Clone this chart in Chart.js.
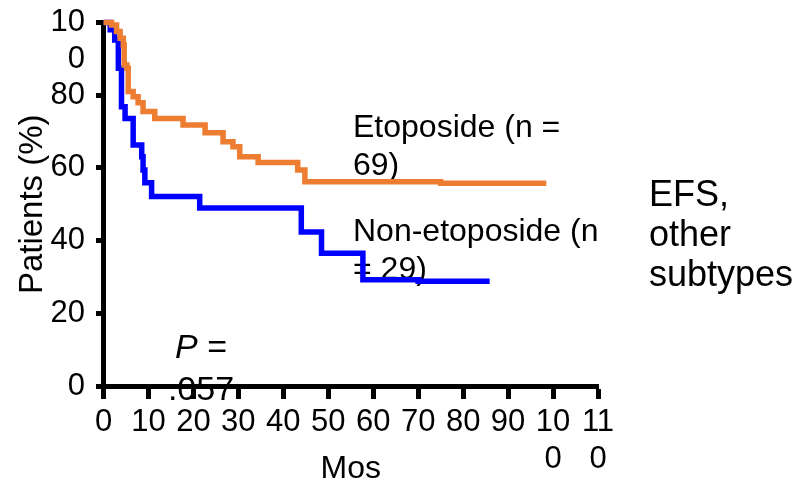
<!DOCTYPE html>
<html>
<head>
<meta charset="utf-8">
<title>EFS, other subtypes</title>
<script src="https://cdn.jsdelivr.net/npm/chart.js@4.4.1/dist/chart.umd.min.js"></script>
<style>
  html, body { margin: 0; padding: 0; background: #fff; }
</style>
</head>
<body>
<canvas id="efsChart" width="803" height="481"></canvas>
<script>
// KM steps: month of drop -> % patients after the drop
const etoMonths = [0, 1.8, 2.9, 3.7, 4.4, 4.6, 5.2, 5.5, 6.6, 7.7, 8.8, 11.4, 17.7, 22.6, 26.6, 28.8, 30.3, 34.4, 43.2, 44.8, 75, 98.5];
const etoPct    = [100, 99.3, 97.5, 95.7, 93.8, 88.3, 87.4, 81.0, 79.6, 77.9, 75.5, 73.6, 71.8, 69.7, 67.2, 65.8, 63.1, 61.5, 59.4, 56.2, 55.8, 55.8];

const nonEtoMonths = [0, 1.5, 2.5, 3.3, 4.0, 4.8, 6.6, 8.5, 8.8, 9.2, 10.7, 21.4, 44.0, 48.5, 57.7, 70, 85.9];
const nonEtoPct    = [100, 98, 95.2, 87.4, 76.8, 73.6, 66.3, 63.1, 59.4, 55.9, 52.1, 49.0, 42.4, 36.5, 29.2, 28.8, 28.8];

// tick labels (long ones wrap like in the original)
const xTicks = [0, 10, 20, 30, 40, 50, 60, 70, 80, 90, 100, 110];
const xTickLabels = ['0', '10', '20', '30', '40', '50', '60', '70', '80', '90', ['10', '0'], ['11', '0']];
const yTicks = [0, 20, 40, 60, 80, 100];
const yTickLabels = ['0', '20', '40', '60', '80', ['', '10', '0']];

// text on the plot
const etoLabel = ['Etoposide (n =', '69)'];
const nonEtoLabel = ['Non-etoposide (n', '= 29)'];
const panelLabel = ['EFS,', 'other', 'subtypes'];
const pLabel = ['P', ' =', '.057'];

const FONT = "'Liberation Sans', Arial, Helvetica, sans-serif";
Chart.defaults.font.family = FONT;
Chart.defaults.color = '#000';

const textPlugin = {
    id: 'panelText',
    beforeDatasetsDraw(chart) {
        const ctx = chart.ctx;
        ctx.save();
        ctx.fillStyle = '#000';
        ctx.textBaseline = 'alphabetic';
        ctx.textAlign = 'left';

        ctx.font = '32px ' + FONT;
        etoLabel.forEach((t, i) => ctx.fillText(t, 353, 137 + i * 38));
        nonEtoLabel.forEach((t, i) => ctx.fillText(t, 353, 241 + i * 38));

        ctx.font = '36px ' + FONT;
        panelLabel.forEach((t, i) => ctx.fillText(t, 649, 206 + i * 40));

        // "P =" centred over ".057"
        const cx = 201;
        ctx.font = 'italic 34px ' + FONT;
        const wP = ctx.measureText(pLabel[0]).width;
        ctx.font = '34px ' + FONT;
        const wEq = ctx.measureText(pLabel[1]).width;
        const x = cx - (wP + wEq) / 2;
        ctx.font = 'italic 34px ' + FONT;
        ctx.fillText(pLabel[0], x, 358);
        ctx.font = '34px ' + FONT;
        ctx.fillText(pLabel[1], x + wP, 358);
        ctx.textAlign = 'center';
        ctx.fillText(pLabel[2], cx, 400);
        ctx.restore();
    }
};

const toPoints = (xs, ys) => xs.map((m, i) => ({ x: m, y: ys[i] }));

const ctx = document.getElementById('efsChart').getContext('2d');
new Chart(ctx, {
    type: 'line',
    data: {
        datasets: [
            {
                label: 'Etoposide (n = 69)',
                data: toPoints(etoMonths, etoPct),
                borderColor: '#ED7D31',
                borderWidth: 5.5,
                stepped: true,
                pointRadius: 0,
                fill: false,
                clip: false,
                borderJoinStyle: 'miter',
                borderCapStyle: 'butt'
            },
            {
                label: 'Non-etoposide (n = 29)',
                data: toPoints(nonEtoMonths, nonEtoPct),
                borderColor: '#0000FF',
                borderWidth: 5.5,
                stepped: true,
                pointRadius: 0,
                fill: false,
                clip: false,
                borderJoinStyle: 'miter',
                borderCapStyle: 'butt'
            }
        ]
    },
    options: {
        responsive: false,
        animation: false,
        layout: { padding: { top: 22.5, right: 205, left: 0, bottom: 0 } },
        plugins: {
            legend: { display: false },
            tooltip: { enabled: false }
        },
        scales: {
            x: {
                type: 'linear',
                min: 0,
                max: 110,
                afterBuildTicks: s => { s.ticks = xTicks.map(v => ({ value: v })); },
                ticks: {
                    autoSkip: false,
                    maxRotation: 0,
                    padding: 5,
                    font: { size: 31, lineHeight: '37px' },
                    callback: v => xTickLabels[xTicks.indexOf(v)]
                },
                grid: { drawOnChartArea: false, tickLength: 13, tickWidth: 5, tickColor: '#000' },
                border: { display: true, width: 5, color: '#000' },
                title: {
                    display: true,
                    text: 'Mos',
                    font: { size: 32, lineHeight: '24px' },
                    padding: { top: 0, bottom: 0 }
                },
                afterFit: s => { s.height = 95; s.paddingLeft = 0; s.paddingRight = 0; }
            },
            y: {
                type: 'linear',
                min: 0,
                max: 100,
                afterBuildTicks: s => { s.ticks = yTicks.map(v => ({ value: v })); },
                ticks: {
                    autoSkip: false,
                    padding: 11,
                    font: { size: 31, lineHeight: '37px' },
                    callback: v => yTickLabels[yTicks.indexOf(v)]
                },
                grid: { drawOnChartArea: false, tickLength: 7.5, tickWidth: 5, tickColor: '#000' },
                border: { display: true, width: 5, color: '#000' },
                title: {
                    display: true,
                    text: 'Patients (%)',
                    font: { size: 33, lineHeight: '40px' },
                    padding: { top: 13, bottom: 0 }
                },
                afterFit: s => { s.width = 103.5; s.paddingTop = 0; s.paddingBottom = 0; }
            }
        }
    },
    plugins: [textPlugin]
});
</script>
</body>
</html>
